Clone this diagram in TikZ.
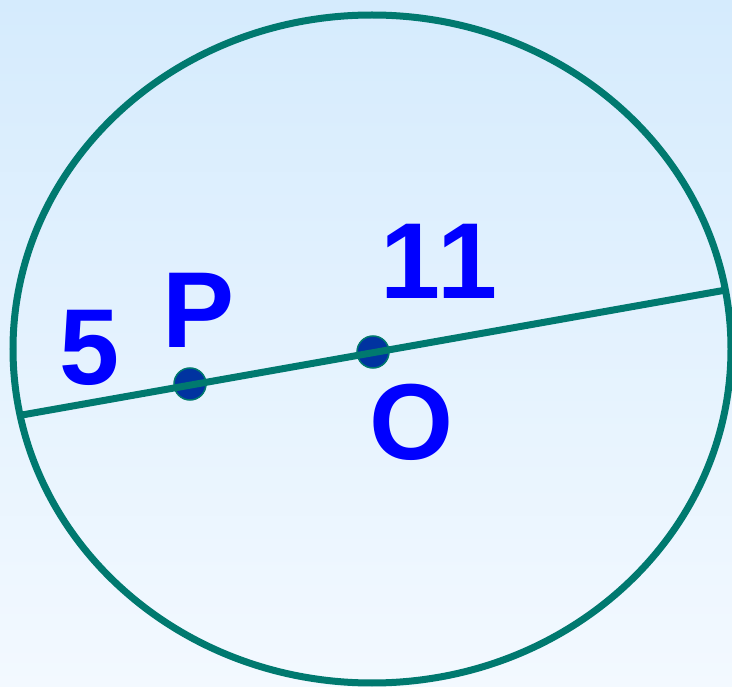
\documentclass[tikz,border=0pt]{standalone}
\usepackage{fontspec}
\setmainfont{Liberation Sans}
\usetikzlibrary{positioning}
\definecolor{rimteal}{HTML}{00796F}
\definecolor{dotblue}{HTML}{0033A0}
\definecolor{labelblue}{HTML}{0000FF}
\definecolor{skytop}{HTML}{D5EBFD}
\definecolor{skybottom}{HTML}{F3F9FF}
\tikzset{
  rimline/.style={draw=rimteal, line width=7pt},
  chordline/.style={draw=rimteal, line width=7pt},
  ptdot/.style={circle, fill=dotblue, draw=rimteal, line width=1.5pt, minimum size=32pt, inner sep=0pt},
  numlabel/.style={text=labelblue, inner sep=0pt, font=\fontsize{108}{120}\selectfont\bfseries}
}

\begin{document}
\begin{tikzpicture}[x=1pt, y=-1pt]
  \shade[top color=skytop, bottom color=skybottom] (0,0) rectangle (732,687);
  \useasboundingbox (0,0) rectangle (732,687);
  \draw[rimline] (372,349) ellipse [x radius=359, y radius=334];
  \node[ptdot] (ptP) at (190,384) {};
  \node[ptdot] (ptO) at (373,352) {};
  \coordinate (chordL) at (22,415);
  \coordinate (chordR) at (726,290);
  \draw[chordline] (chordL) -- (chordR);
  \node[numlabel] (five) at (90,348) {5};
  \node[numlabel] (labP) at (199,310) {P};
  \node[numlabel] (eleven) at (439,261) {1\kern-3pt1};
  \node[numlabel] (labO) at (412,422) {O};
\end{tikzpicture}
\end{document}
